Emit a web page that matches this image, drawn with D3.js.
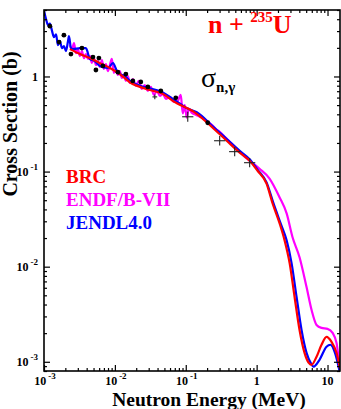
<!DOCTYPE html>
<html>
<head>
<meta charset="utf-8">
<script src="https://cdn.jsdelivr.net/npm/d3@7"></script>
<style>
  body { margin: 0; background: #fff; }
  svg { display: block; }
  text { font-family: "Liberation Serif", "Times New Roman", serif; font-weight: bold; }
</style>
</head>
<body>
<svg id="chart" width="341" height="409"></svg>
<script>
// Neutron capture cross section of U-235: evaluated libraries and measurements.
// Energies in MeV, cross sections in barns.

const brcEnergy = [2.32e-3, 3.21e-3, 4.45e-3, 6.15e-3, 8.5e-3, 0.01175, 0.01626, 0.0311, 0.0475, 0.0656,
  0.143, 0.24, 0.378, 0.577, 0.796, 1.03, 1.38, 1.68, 2.11, 2.48, 2.92, 3.43, 4.03, 4.74, 5.40, 5.96,
  7.0, 8.23, 9.68, 11.4, 13.4, 15];
const brcSigma = [1.94, 1.72, 1.56, 1.38, 1.23, 1.06, 0.87, 0.722, 0.656, 0.554,
  0.405, 0.289, 0.211, 0.158, 0.130, 0.102, 0.0748, 0.0462, 0.0285, 0.0189, 0.0109, 0.0048, 0.00216, 0.00124, 0.00098, 0.00093,
  0.00113, 0.00151, 0.00183, 0.00162, 0.00124, 0.00085];

const endfEnergy = [2.32e-3, 2.48e-3, 2.65e-3, 2.82e-3, 3.01e-3, 3.21e-3, 3.43e-3, 3.66e-3, 3.90e-3, 4.17e-3,
  4.45e-3, 4.74e-3, 5.06e-3, 5.40e-3, 5.76e-3, 6.15e-3, 6.56e-3, 7.00e-3, 7.47e-3, 7.97e-3,
  8.50e-3, 9.07e-3, 9.68e-3, 0.01033, 0.01102, 0.01175, 0.01255, 0.01339, 0.01429, 0.01524,
  0.01626, 0.01793, 0.01977, 0.0218, 0.02402, 0.02649, 0.0292, 0.03219, 0.03549, 0.03912,
  0.04313, 0.04755, 0.05242, 0.0595, 0.06776, 0.07711, 0.085, 0.09077, 0.09686, 0.1033,
  0.1102, 0.1215, 0.1384, 0.1575, 0.1794, 0.2042, 0.2324, 0.2647, 0.3013, 0.354,
  0.4168, 0.4898, 0.5764, 0.6776, 0.7966, 0.9372, 1.10, 1.52, 2.11, 2.65,
  3.21, 4.03, 5.06, 5.96, 7.0, 8.23, 10.0, 11.8, 13.4, 14.3, 15];
const endfSigma = [2.14, 1.94, 2.24, 1.76, 1.94, 1.64, 1.85, 1.56, 1.72, 1.53,
  1.64, 1.39, 1.56, 1.32, 1.45, 1.26, 1.49, 1.20, 1.35, 1.14,
  1.32, 1.53, 1.09, 1.20, 1.04, 1.14, 0.965, 1.04, 0.90, 1.01,
  0.855, 0.94, 0.80, 0.90, 0.74, 0.81, 0.705, 0.78, 0.64, 0.705,
  0.625, 0.656, 0.58, 0.61, 0.54, 0.554, 0.64, 0.41, 0.50, 0.37,
  0.46, 0.415, 0.395, 0.377, 0.359, 0.334, 0.311, 0.282, 0.262, 0.2325,
  0.206, 0.183, 0.162, 0.1436, 0.1304, 0.1184, 0.107, 0.0845, 0.0535, 0.0363,
  0.0204, 0.01257, 0.0061, 0.0035, 0.00244, 0.00227, 0.00222, 0.00201, 0.00158, 0.00113, 0.0009];

const jendlEnergy = [1e-3, 1.07e-3, 1.14e-3, 1.21e-3, 1.30e-3, 1.38e-3, 1.48e-3, 1.57e-3, 1.68e-3, 1.79e-3,
  1.91e-3, 2.04e-3, 2.18e-3, 2.25e-3, 2.40e-3, 2.56e-3, 3.21e-3, 3.90e-3, 4.45e-3, 5.20e-3,
  6.15e-3, 7.97e-3, 9.4e-3, 0.011, 0.0138, 0.0163, 0.0225, 0.0311, 0.0475, 0.0656,
  0.085, 0.1, 0.143, 0.24, 0.378, 0.577, 0.796, 1.03, 1.38, 1.73,
  2.18, 2.65, 3.11, 3.66, 4.30, 5.06, 5.76, 6.36, 7.71, 9.68,
  11.0, 12.6, 14.3, 15];
const jendlSigma = [4.9, 4.0, 3.46, 3.6, 3.0, 2.59, 2.78, 2.14, 2.35, 1.99,
  2.09, 1.85, 2.35, 2.65, 1.99, 1.94, 1.99, 1.99, 1.52, 1.45,
  1.29, 1.23, 1.38, 1.09, 1.01, 0.897, 0.80, 0.75, 0.68, 0.58,
  0.51, 0.47, 0.42, 0.30, 0.22, 0.165, 0.135, 0.105, 0.077, 0.0462,
  0.0285, 0.0189, 0.0109, 0.0048, 0.00216, 0.00124, 0.00098, 0.00089, 0.00105, 0.00144,
  0.00151, 0.00127, 0.00089, 0.00075];

// measured points (dots)
const expEnergy = [1.21e-3, 1.63e-3, 1.91e-3, 2.40e-3, 3.43e-3, 4.90e-3, 5.95e-3, 5.40e-3, 6.78e-3, 0.01102,
  0.01429, 0.01793, 0.0232, 0.0292, 0.0445, 0.0723, 0.2042];
const expSigma = [3.38, 2.30, 2.72, 1.72, 1.99, 1.60, 1.56, 1.17, 1.29, 1.11,
  1.06, 0.897, 0.876, 0.777, 0.705, 0.596, 0.326];

// measured points with error bars (relative half-widths)
const barEnergy = [0.0366, 0.1067, 0.301, 0.490, 0.797];
const barSigma = [0.61, 0.377, 0.211, 0.162, 0.124];
const barEnergyErr = [0.08, 0.2, 0.2, 0.2, 0.2];
const barSigmaErr = [0.06, 0.13, 0.12, 0.12, 0.12];

const seriesNames = ["BRC", "ENDF/B-VII", "JENDL4.0"];
const seriesColors = ["#ff0000", "#ff00ff", "#0000ff"];

const xMajorTicks = [1e-3, 1e-2, 1e-1, 1, 10];
const xTickBase = ["10", "10", "10", "1", "10"];
const xTickExp = ["-3", "-2", "-1", "", ""];
const yMajorTicks = [1e-3, 1e-2, 1e-1, 1];
const yTickBase = ["10", "10", "10", "1"];
const yTickExp = ["-3", "-2", "-1", ""];

const svg = d3.select("#chart");
const plotLeft = 44, plotRight = 340, plotTop = 10, plotBottom = 371;

const x = d3.scaleLog().domain([1e-3, 15]).range([plotLeft, plotRight]);
const y = d3.scaleLog().domain([8e-4, 5]).range([plotBottom, plotTop]);

function minorTicks(scale) {
  const [a, b] = scale.domain();
  const lo = Math.min(a, b), hi = Math.max(a, b);
  const out = [];
  for (let e = -5; e <= 2; e++) {
    for (let m = 2; m <= 9; m++) {
      const v = m * Math.pow(10, e);
      if (v >= lo * 0.9999 && v <= hi * 1.0001) out.push(v);
    }
  }
  return out;
}

// clip region for data
svg.append("defs").append("clipPath").attr("id", "plot-clip")
  .append("rect").attr("x", plotLeft).attr("y", plotTop)
  .attr("width", plotRight - plotLeft).attr("height", plotBottom - plotTop);

const plot = svg.append("g").attr("clip-path", "url(#plot-clip)");

const line = d3.line().x(d => x(d[0])).y(d => y(d[1])).curve(d3.curveMonotoneX);
const zip = (a, b) => a.map((v, i) => [v, b[i]]);

plot.append("path").datum(zip(endfEnergy, endfSigma))
  .attr("d", line).attr("fill", "none").attr("stroke", seriesColors[1]).attr("stroke-width", 2.2);
plot.append("path").datum(zip(jendlEnergy, jendlSigma))
  .attr("d", line).attr("fill", "none").attr("stroke", seriesColors[2]).attr("stroke-width", 2.2);
plot.append("path").datum(zip(brcEnergy, brcSigma))
  .attr("d", line).attr("fill", "none").attr("stroke", seriesColors[0]).attr("stroke-width", 2.2);

// error-bar points
const bars = plot.append("g").attr("stroke", "#222").attr("stroke-width", 1.1);
barEnergy.forEach((e, i) => {
  const s = barSigma[i];
  bars.append("line")
    .attr("x1", x(e / (1 + barEnergyErr[i]))).attr("x2", x(e * (1 + barEnergyErr[i])))
    .attr("y1", y(s)).attr("y2", y(s));
  bars.append("line")
    .attr("x1", x(e)).attr("x2", x(e))
    .attr("y1", y(s * (1 + barSigmaErr[i]))).attr("y2", y(s / (1 + barSigmaErr[i])));
});

// dot points
plot.append("g").selectAll("circle").data(zip(expEnergy, expSigma)).join("circle")
  .attr("cx", d => x(d[0])).attr("cy", d => y(d[1])).attr("r", 2.4).attr("fill", "#000");

// axes with inward ticks on all four sides
function drawTicks(axisGen, transform, values, size) {
  const g = svg.append("g").attr("transform", transform)
    .call(axisGen.tickValues(values).tickSize(size).tickFormat(""));
  g.select(".domain").remove();
  g.selectAll("line").attr("stroke", "#000").attr("stroke-width", 1.2);
}
drawTicks(d3.axisBottom(x), `translate(0,${plotBottom})`, xMajorTicks, -6);
drawTicks(d3.axisBottom(x), `translate(0,${plotBottom})`, minorTicks(x), -3);
drawTicks(d3.axisTop(x), `translate(0,${plotTop})`, xMajorTicks, -6);
drawTicks(d3.axisTop(x), `translate(0,${plotTop})`, minorTicks(x), -3);
drawTicks(d3.axisLeft(y), `translate(${plotLeft},0)`, yMajorTicks, -6);
drawTicks(d3.axisLeft(y), `translate(${plotLeft},0)`, minorTicks(y), -3);
drawTicks(d3.axisRight(y), `translate(${plotRight},0)`, yMajorTicks, -6);
drawTicks(d3.axisRight(y), `translate(${plotRight},0)`, minorTicks(y), -3);

svg.append("rect").attr("x", plotLeft).attr("y", plotTop)
  .attr("width", plotRight - plotLeft).attr("height", plotBottom - plotTop)
  .attr("fill", "none").attr("stroke", "#000").attr("stroke-width", 1.6);

// tick labels
xMajorTicks.forEach((v, i) => {
  const t = svg.append("text").attr("x", x(v) + (xTickExp[i] ? 1 : 0)).attr("y", 385)
    .attr("text-anchor", "middle").attr("font-size", 12);
  t.append("tspan").text(xTickBase[i]);
  if (xTickExp[i]) t.append("tspan").attr("dx", 2).attr("dy", -6).attr("font-size", 9).text(xTickExp[i]);
});
yMajorTicks.forEach((v, i) => {
  const t = svg.append("text").attr("x", 38).attr("y", y(v) + 4.5)
    .attr("text-anchor", "end").attr("font-size", 12);
  t.append("tspan").text(yTickBase[i]);
  if (yTickExp[i]) t.append("tspan").attr("dx", 2).attr("dy", -6).attr("font-size", 9).text(yTickExp[i]);
});

// axis titles
svg.append("text").attr("x", 209).attr("y", 406).attr("text-anchor", "middle")
  .attr("font-size", 19.5).text("Neutron Energy (MeV)");
svg.append("text").attr("transform", "translate(17,124) rotate(-90)").attr("text-anchor", "middle")
  .attr("font-size", 20).text("Cross Section (b)");

// reaction label
const title = svg.append("text").attr("x", 208).attr("y", 33).attr("fill", "#ff0000").attr("font-size", 26);
title.append("tspan").text("n + ");
title.append("tspan").attr("dy", -11).attr("font-size", 15).text("235");
title.append("tspan").attr("dy", 11).text("U");

const sig = svg.append("text").attr("x", 201).attr("y", 87).attr("fill", "#000");
sig.append("tspan").attr("font-size", 28).attr("font-weight", "normal").text("σ");
sig.append("tspan").attr("dy", 5).attr("font-size", 15).text("n,γ");

// legend
seriesNames.forEach((name, i) => {
  svg.append("text").attr("x", 66).attr("y", 183 + i * 23)
    .attr("fill", seriesColors[i]).attr("font-size", 19).text(name);
});
</script>
</body>
</html>
